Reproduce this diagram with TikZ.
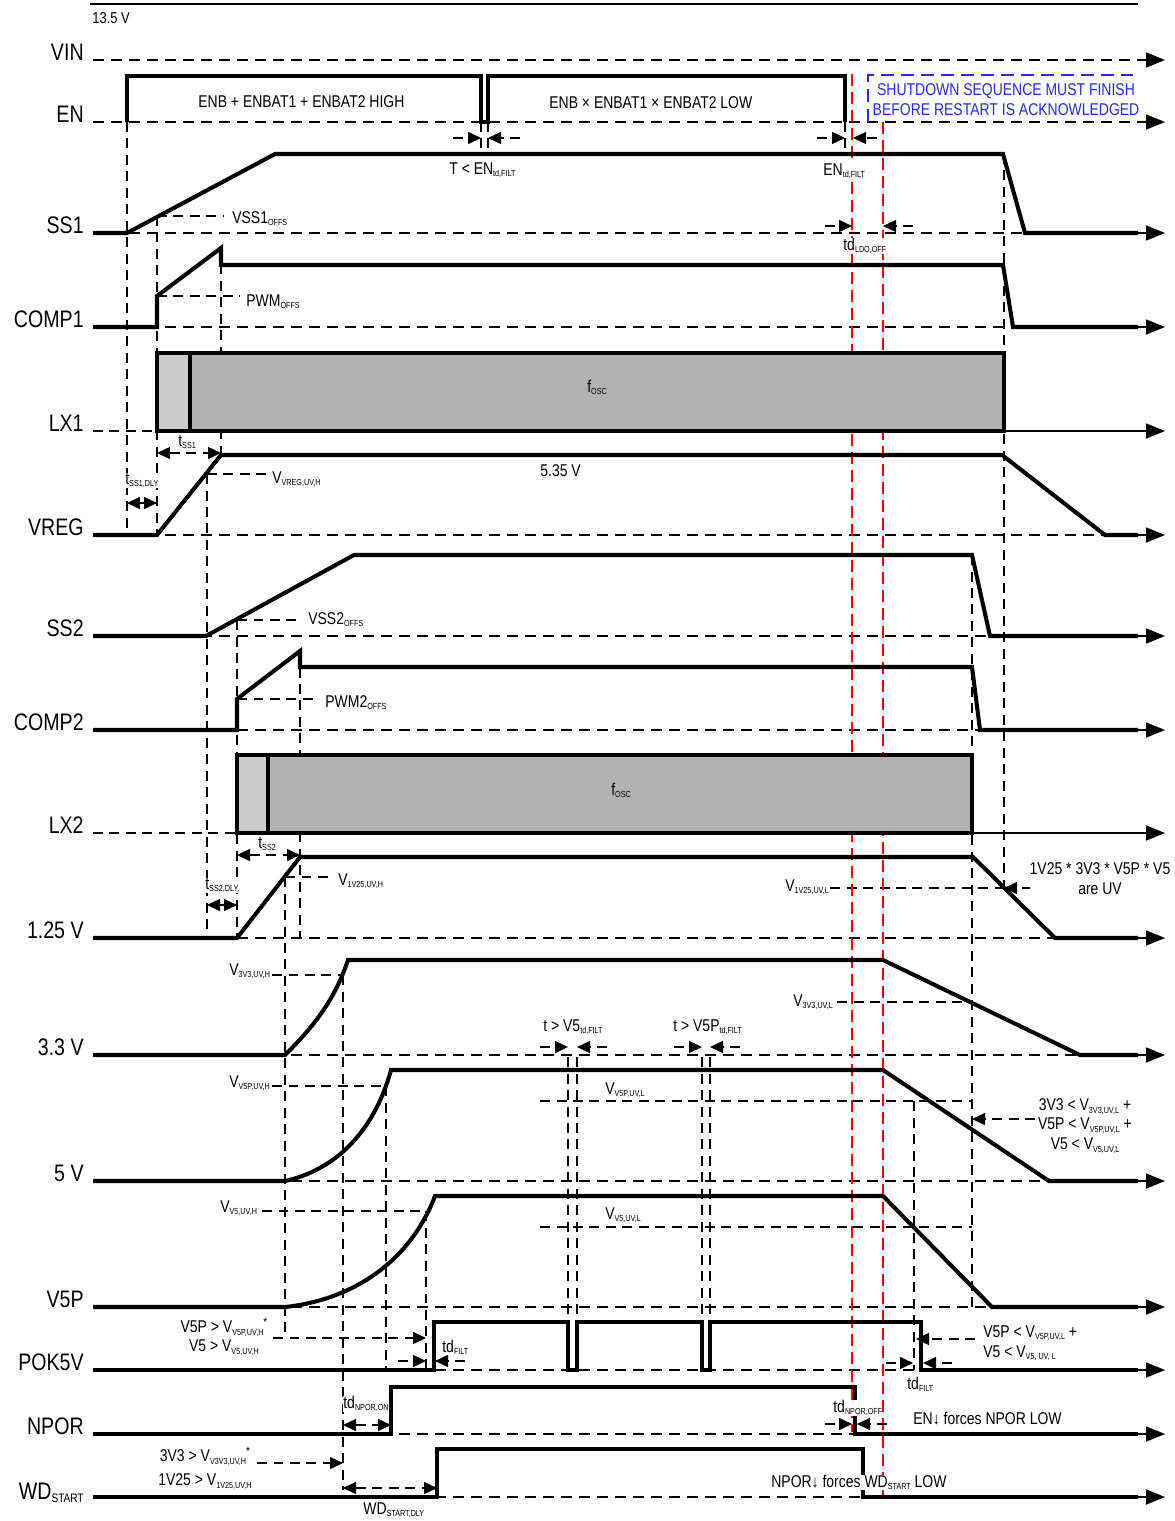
\documentclass[tikz,border=0pt]{standalone}
\usepackage{fontspec}
\setmainfont{Liberation Sans}[FakeStretch=0.82]
\usetikzlibrary{arrows.meta}
\definecolor{sdblue}{RGB}{40,40,245}
\newcommand{\lo}[1]{\raisebox{-1.6pt}{\fontsize{5}{5}\selectfont #1}}
\newcommand{\Lo}[1]{\raisebox{-2pt}{\fontsize{7}{7}\selectfont #1}}
\newcommand{\st}{\raisebox{3.5pt}{\fontsize{7}{7}\selectfont *}}

\begin{document}
\begin{tikzpicture}[
x=0.02cm,
y=-0.02cm,
every node/.style={
inner sep=0pt,
fill=white,
font=\fontsize{9.7}{11.4}\selectfont
},
lbl/.style={
anchor=base east,
font=\fontsize{13.6}{16}\selectfont
},
txt/.style={
anchor=base west
},
wave/.style={
line width=2.3pt
},
axis/.style={
line width=1pt,
dash pattern=on 0.22cm off 0.14cm,
-{Triangle[length=0.38cm,width=0.3cm]}
},
guide/.style={
line width=0.8pt,
dash pattern=on 0.2cm off 0.13cm
},
dim/.style={
guide,
-{Triangle[length=0.26cm,width=0.24cm]}
},
ddim/.style={
guide,
{Triangle[length=0.26cm,width=0.24cm]}-{Triangle[length=0.26cm,width=0.24cm]}
},
redline/.style={
red,
line width=1.2pt,
dash pattern=on 0.24cm off 0.12cm
}
]

\useasboundingbox (0,0) rectangle (1174,1521);

\draw[line width=1.1pt] (90,4) -- (1138,4);

\node[txt, font=\fontsize{9}{10}\selectfont] (vtop) at (92,23) {13.5 V};

\node[lbl] (vin) at (84,60) {VIN};
\node[lbl] (en) at (84,122) {EN};
\node[lbl] (ssa) at (84,233) {SS1};
\node[lbl] (compa) at (84,327) {COMP1};
\node[lbl] (lxa) at (84,431) {LX1};
\node[lbl] (vreg) at (84,535) {VREG};
\node[lbl] (ssb) at (84,636) {SS2};
\node[lbl] (compb) at (84,730) {COMP2};
\node[lbl] (lxb) at (84,833) {LX2};
\node[lbl] (vlow) at (84,938) {1.25 V};
\node[lbl] (vmid) at (84,1055) {3.3 V};
\node[lbl] (vfive) at (84,1181) {5 V};
\node[lbl] (vfivep) at (84,1307) {V5P};
\node[lbl] (pok) at (84,1370) {POK5V};
\node[lbl] (npor) at (84,1434) {NPOR};
\node[lbl] (wdst) at (84,1499) {WD\Lo{START}};

\draw[axis] (93,60) -- (1165,60);
\draw[axis] (93,122) -- (1165,122);
\draw[axis] (93,233) -- (1165,233);
\draw[axis] (93,327) -- (1165,327);
\draw[axis] (93,535) -- (1165,535);
\draw[axis] (93,636) -- (1165,636);
\draw[axis] (93,730) -- (1165,730);
\draw[axis] (93,938) -- (1165,938);
\draw[axis] (93,1055) -- (1165,1055);
\draw[axis] (93,1181) -- (1165,1181);
\draw[axis] (93,1307) -- (1165,1307);
\draw[axis] (93,1370) -- (1165,1370);
\draw[axis] (93,1434) -- (1165,1434);
\draw[axis] (93,1497) -- (1165,1497);
\draw[guide] (93,431) -- (157,431);
\draw[guide] (93,833) -- (237,833);
\draw[line width=1pt, -{Triangle[length=0.38cm,width=0.3cm]}] (1004,431) -- (1165,431);
\draw[line width=1pt, -{Triangle[length=0.38cm,width=0.3cm]}] (972,833) -- (1165,833);

\draw[guide] (127,122) -- (127,535);
\draw[guide] (157,216) -- (157,535);
\draw[guide] (221,248) -- (221,453);
\draw[guide] (207,474) -- (207,938);
\draw[guide] (237,620) -- (237,938);
\draw[guide] (300,651) -- (300,938);
\draw[guide] (285,877) -- (285,1335);
\draw[guide] (343,975) -- (343,1490);
\draw[guide] (386,1086) -- (386,1370);
\draw[guide] (426,1211) -- (426,1370);
\draw[guide] (481,122) -- (481,152);
\draw[guide] (488,122) -- (488,152);
\draw[guide] (845,122) -- (845,152);
\draw[guide] (1004,154) -- (1004,888);
\draw[guide] (972,555) -- (972,1307);
\draw[guide] (914,1101) -- (914,1370);
\draw[guide] (568,1057) -- (568,1322);
\draw[guide] (577,1057) -- (577,1322);
\draw[guide] (702,1057) -- (702,1322);
\draw[guide] (710,1057) -- (710,1322);

\draw[guide] (157,216) -- (224,216);
\draw[guide] (157,296) -- (240,296);
\draw[guide] (207,474) -- (268,474);
\draw[guide] (237,620) -- (300,620);
\draw[guide] (237,699) -- (315,699);
\draw[guide] (285,877) -- (333,877);
\draw[guide] (830,888) -- (1004,888);
\draw[guide] (272,975) -- (343,975);
\draw[guide] (837,1002) -- (972,1002);
\draw[guide] (272,1086) -- (386,1086);
\draw[guide] (540,1101) -- (972,1101);
\draw[guide] (262,1211) -- (426,1211);
\draw[guide] (540,1227) -- (972,1227);

\draw[redline] (852,74) -- (852,1432);
\draw[redline] (883,122) -- (883,1497);

\draw[sdblue, line width=1.2pt, dash pattern=on 0.26cm off 0.14cm] (868,122) -- (868,75) -- (1133,75);

\node[align=center, anchor=north, text=sdblue, fill=none] (shut) at (1006,83)
{SHUTDOWN SEQUENCE MUST FINISH\\BEFORE RESTART IS ACKNOWLEDGED};

\draw[wave] (127,122) -- (127,76) -- (481,76) -- (481,122) -- (488,122) -- (488,76) -- (845,76) -- (845,122);

\draw[wave] (93,233) -- (127,233) -- (275,154) -- (1003,154) -- (1025,233) -- (1138,233);

\draw[wave] (93,327) -- (157,327) -- (157,296) -- (221,248) -- (221,265) -- (1003,265) -- (1013,327) -- (1138,327);

\fill[gray!60] (157,353) rectangle (1004,431);
\fill[gray!40] (157,353) rectangle (190,431);
\draw[wave] (157,353) rectangle (1004,431);
\draw[wave] (190,353) -- (190,431);

\draw[wave] (93,535) -- (157,535) -- (221,455) -- (1002,455) -- (1105,535) -- (1138,535);

\draw[wave] (93,636) -- (206,636) -- (354,555) -- (972,555) -- (990,636) -- (1138,636);

\draw[wave] (93,730) -- (237,730) -- (237,699) -- (300,651) -- (300,667) -- (972,667) -- (980,730) -- (1138,730);

\fill[gray!60] (237,755) rectangle (972,833);
\fill[gray!40] (237,755) rectangle (268,833);
\draw[wave] (237,755) rectangle (972,833);
\draw[wave] (268,755) -- (268,833);

\draw[wave] (93,938) -- (237,938) -- (300,857) -- (973,857) -- (1055,938) -- (1138,938);

\draw[wave] (93,1055) -- (285,1055) .. controls (312,1028) and (334,1002) .. (348,960) -- (883,960) -- (1080,1055) -- (1138,1055);

\draw[wave] (93,1181) -- (285,1181) .. controls (335,1170) and (374,1132) .. (391,1070) -- (883,1070) -- (1049,1181) -- (1138,1181);

\draw[wave] (93,1307) -- (285,1307) .. controls (352,1300) and (410,1262) .. (435,1196) -- (883,1196) -- (992,1307) -- (1138,1307);

\draw[wave] (93,1370) -- (434,1370) -- (434,1322) -- (568,1322) -- (568,1370) -- (577,1370) -- (577,1322) -- (702,1322) -- (702,1370) -- (710,1370) -- (710,1322) -- (921,1322) -- (921,1370) -- (1138,1370);

\draw[wave] (93,1434) -- (391,1434) -- (391,1387) -- (855,1387) -- (855,1434) -- (1138,1434);

\draw[wave] (93,1497) -- (437,1497) -- (437,1449) -- (863,1449) -- (863,1497) -- (1138,1497);

\node[txt] (enhigh) at (198,107) {ENB + ENBAT1 + ENBAT2 HIGH};
\node[txt] (enlow) at (549,108) {ENB × ENBAT1 × ENBAT2 LOW};

\draw[dim] (453,138) -- (481,138);
\draw[dim] (520,138) -- (488,138);
\node[txt] (tenf) at (449,174) {T < EN\lo{td,FILT}};

\draw[dim] (817,138) -- (845,138);
\draw[dim] (877,138) -- (853,138);
\node[txt] (enf) at (823,175) {EN\lo{td,FILT}};

\draw[dim] (825,226) -- (852,226);
\draw[dim] (913,226) -- (883,226);
\node[txt] (ldo) at (843,250) {td\lo{LDO,OFF}};

\node[txt] (vssa) at (232,223) {VSS1\lo{OFFS}};
\node[txt] (pwma) at (246,306) {PWM\lo{OFFS}};
\node[txt, fill=none] (osca) at (587,392) {f\lo{OSC}};

\draw[ddim] (157,453) -- (221,453);
\node[txt] (tssa) at (178,446) {t\lo{SS1}};
\draw[ddim] (127,503) -- (157,503);
\node[txt] (tssad) at (125,484) {t\lo{SS1,DLY}};
\node[txt] (vregh) at (272,483) {V\lo{VREG,UV,H}};
\node[txt] (vregv) at (540,476) {5.35 V};

\node[txt] (vssb) at (308,624) {VSS2\lo{OFFS}};
\node[txt] (pwmb) at (325,707) {PWM2\lo{OFFS}};
\node[txt, fill=none] (oscb) at (611,795) {f\lo{OSC}};

\draw[ddim] (237,855) -- (300,855);
\node[txt] (tssb) at (258,848) {t\lo{SS2}};
\draw[ddim] (207,905) -- (237,905);
\node[txt] (tssbd) at (205,889) {t\lo{SS2,DLY,}};
\node[txt] (vah) at (338,885) {V\lo{1V25,UV,H}};
\node[txt] (val) at (785,891) {V\lo{1V25,UV,L}};

\draw[dim] (1065,888) -- (1004,888);
\node[align=center, anchor=north] (alluv) at (1100,862) {1V25 * 3V3 * V5P * V5\\are UV};

\node[txt] (vbh) at (229,975) {V\lo{3V3,UV,H}};
\node[txt] (vbl) at (793,1006) {V\lo{3V3,UV,L}};

\draw[dim] (540,1047) -- (568,1047);
\draw[dim] (607,1047) -- (577,1047);
\node[txt] (tvf) at (543,1031) {t > V5\lo{td,FILT}};
\draw[dim] (674,1047) -- (702,1047);
\draw[dim] (740,1047) -- (710,1047);
\node[txt] (tvfp) at (673,1031) {t > V5P\lo{td,FILT}};

\node[txt] (vch) at (229,1087) {V\lo{V5P,UV,H}};
\node[txt] (vcl) at (605,1094) {V\lo{V5P,UV,L}};
\node[txt] (vdh) at (220,1212) {V\lo{V5,UV,H}};
\node[txt] (vdl) at (605,1219) {V\lo{V5,UV,L}};

\draw[dim] (1035,1119) -- (972,1119);
\node[align=center, anchor=north, font=\fontsize{9.7}{11.1}\selectfont] (uvl) at (1085,1098)
{3V3 < V\lo{3V3,UV,L} +\\V5P < V\lo{V5P,UV,L} +\\V5 < V\lo{V5,UV,L}};

\draw[dim] (273,1338) -- (426,1338);
\node[align=center, anchor=north, font=\fontsize{9.7}{10.4}\selectfont] (uvh) at (224,1318)
{V5P > V\lo{V5P,UV,H}\st\\V5 > V\lo{V5,UV,H}};

\draw[dim] (398,1361) -- (426,1361);
\draw[dim] (465,1361) -- (435,1361);
\node[txt] (filta) at (442,1352) {td\lo{FILT}};

\draw[dim] (975,1339) -- (916,1339);
\node[align=left, anchor=north west] (uvlb) at (983,1325)
{V5P < V\lo{V5P,UV,L} +\\V5 < V\lo{V5, UV, L}};

\draw[dim] (886,1363) -- (913,1363);
\draw[dim] (952,1363) -- (923,1363);
\node[txt] (filtb) at (907,1389) {td\lo{FILT}};

\draw[ddim] (343,1425) -- (391,1425);
\node[txt] (npon) at (343,1408) {td\lo{NPOR,ON}};

\draw[dim] (825,1424) -- (852,1424);
\draw[dim] (887,1424) -- (857,1424);
\node[txt] (npoff) at (833,1412) {td\lo{NPOR,OFF}};
\node[txt] (enforce) at (913,1424) {EN↓ forces NPOR LOW};

\draw[dim] (257,1463) -- (343,1463);
\node[align=center, anchor=north, font=\fontsize{9.7}{13.3}\selectfont] (uvr) at (205,1447)
{3V3 > V\lo{V3V3,UV,H}\st\\1V25 > V\lo{1V25,UV,H}};

\draw[ddim] (343,1488) -- (437,1488);
\node[txt] (wddly) at (363,1514) {WD\lo{START,DLY}};
\node[txt] (npforce) at (771,1487) {NPOR↓ forces WD\lo{START} LOW};

\end{tikzpicture}
\end{document}
